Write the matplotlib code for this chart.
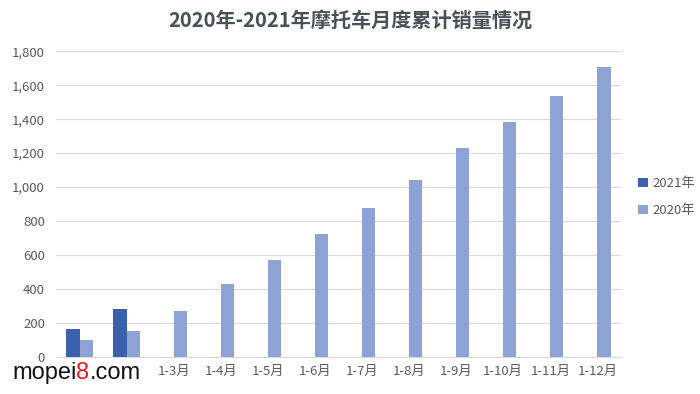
import matplotlib.pyplot as plt
import numpy as np

plt.rcParams['font.family'] = ['Noto Sans CJK SC', 'DejaVu Sans']

months = ['1月', '1-2月', '1-3月', '1-4月', '1-5月', '1-6月', '1-7月', '1-8月',
          '1-9月', '1-10月', '1-11月', '1-12月']
sales_2021 = [165, 280]
sales_2020 = [100, 151, 270, 430, 570, 723, 876, 1041, 1229, 1382, 1535, 1706]

fig = plt.figure(figsize=(7, 3.94), dpi=100)
ax = fig.add_axes([0.08, 0.094, 0.807, 0.776])

x = np.arange(len(months))
w = 0.28
ax.bar(x[:len(sales_2021)] - 0.14, sales_2021, w, color='#3a60ae', label='2021年', zorder=3)
ax.bar(x + 0.14, sales_2020, w, color='#8ea2d6', label='2020年', zorder=3)

ax.set_xlim(-0.5, len(months) - 0.5)
ax.set_ylim(0, 1800)
ax.set_yticks(range(0, 1801, 200))
ax.set_yticklabels([f'{v:,}' for v in range(0, 1801, 200)])
ax.set_xticks(x)
ax.set_xticklabels(months)
ax.tick_params(length=0, labelsize=9.5, colors='#595959')
ax.tick_params(axis='y', pad=8)
ax.tick_params(axis='x', pad=6)
ax.grid(axis='y', color='#d9d9d9', lw=0.8, zorder=0)
for s in ['top', 'right', 'left']:
    ax.spines[s].set_visible(False)
ax.spines['bottom'].set_color('#d9d9d9')

fig.suptitle('2020年-2021年摩托车月度累计销量情况', x=0.5, y=0.975,
             fontsize=14.5, fontweight='bold', color='#4a4f58')

ax.legend(loc='center left', bbox_to_anchor=(0.895, 0.5), bbox_transform=fig.transFigure,
          frameon=False, fontsize=9.5, handlelength=0.7, handleheight=0.7,
          handletextpad=0.4, labelspacing=1.1, labelcolor='#595959')

# watermark (sits over the first two month labels, as in the source image)
r = fig.canvas.get_renderer()
px = 12
for part, col in [('mopei', '#111111'), ('8', '#e02020'), ('.com', '#111111')]:
    t = fig.text(px / 700, 1 - 379 / 394, part, fontsize=17, color=col, va='baseline',
                 family='Liberation Sans', zorder=10,
                 bbox=dict(facecolor='white', edgecolor='none', pad=0.3))
    px += t.get_window_extent(r).width

fig.savefig('out.png', dpi=100)
